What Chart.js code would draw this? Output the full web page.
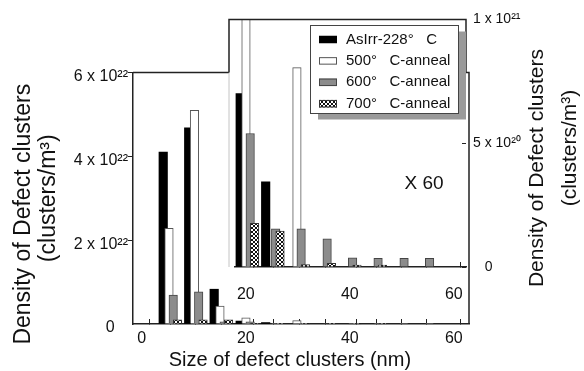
<!DOCTYPE html>
<html>
<head>
<meta charset="utf-8">
<script src="https://cdn.jsdelivr.net/npm/chart.js@4.4.1/dist/chart.umd.min.js"></script>
<style>
  body { margin: 0; background: #fff; }
  #wrap { position: relative; width: 584px; height: 371px; }
  #wrap canvas { position: absolute; left: 0; top: 0; }
</style>
</head>
<body>
<div id="wrap">
  <canvas id="main" width="584" height="371"></canvas>
  <canvas id="inset" width="584" height="371"></canvas>
</div>
<script>
// bar group centres (nm)
const sizes = [5.5, 10.4, 15.3, 20.3, 25.2, 30.1, 35.1, 40.0, 44.9, 49.9, 54.8]

// densities, clusters/m^3
const asIrr = [4.10e22, 4.68e22, 8.3e21, 7.0e20, 3.44e20, 0, 0, 0, 0, 0, 0]
const anneal500 = [2.28e22, 5.10e22, 4.3e21, 1.5e21, 0, 8.05e20, 0, 0, 0, 0, 0]
const anneal600 = [6.9e21, 7.7e21, 5.0e20, 5.39e20, 1.54e20, 1.54e20, 1.14e20, 3.7e19, 3.5e19, 3.5e19, 3.5e19]
const anneal700 = [1.0e21, 1.0e21, 1.0e21, 1.76e20, 1.45e20, 1.0e19, 1.5e19, 8e18, 8e18, 0, 0]

const seriesNames = ['AsIrr-228°   C', '500°   C-anneal', '600°   C-anneal', '700°   C-anneal']

// small tick marks sit between the groups
const binEdges = [3.0, 7.9, 12.8, 17.8, 22.8, 27.8, 32.9, 37.8, 42.6, 47.5, 52.3, 57.3]
const xLabels = [0, 20, 40, 60]
const mainYTicks = [0, 2e22, 4e22, 6e22]
const mainYLabels = ['0   ', '2 x 10²²', '4 x 10²²', '6 x 10²²']
const insetYTicks = [0, 5e20, 1e21]
const insetYLabels = ['   0', '5 x 10²⁰', '1 x 10²¹']

const FONT = "'Liberation Sans', Arial, Helvetica, sans-serif"
const INK = '#111'
const LINE = '#222'

Chart.defaults.font.family = FONT
Chart.defaults.color = INK

function makeHatch () {
  const c = document.createElement('canvas')
  c.width = 4
  c.height = 4
  const g = c.getContext('2d')
  g.fillStyle = '#fff'
  g.fillRect(0, 0, 4, 4)
  g.fillStyle = '#111'
  for (let i = 0; i < 4; i++) {
    g.fillRect(i, i, 1, 1)
    g.fillRect(i, 3 - i, 1, 1)
  }
  return g.createPattern(c, 'repeat')
}
const hatch = makeHatch()

const styles = [
  { fill: '#000', border: '#000', width: 0, shift: -1.38 },
  { fill: '#fff', border: '#555', width: 1, shift: -0.27 },
  { fill: '#8c8c8c', border: '#444', width: 1, shift: 0.54 },
  { fill: hatch, border: '#333', width: 1, shift: 1.38 }
]

function buildDatasets (clip) {
  return [asIrr, anneal500, anneal600, anneal700].map((vals, i) => ({
    label: seriesNames[i],
    data: vals
      .map((v, j) => ({ x: sizes[j] + styles[i].shift, y: v }))
      .filter((p) => p.y > 0),
    backgroundColor: styles[i].fill,
    borderColor: styles[i].border,
    borderWidth: styles[i].width,
    barThickness: 8.5,
    grouped: false,
    order: 3 - i,
    clip
  }))
}

function xTicks (min, max) {
  return (axis) => {
    axis.ticks = [...xLabels, ...binEdges]
      .filter((v) => v >= min && v <= max)
      .sort((a, b) => a - b)
      .map((v) => ({ value: v }))
  }
}

const hideLabelTick = (ctx) => xLabels.includes(ctx.tick && ctx.tick.value) ? 'rgba(0,0,0,0)' : LINE

const X_MIN = -1.69
const X_MAX = 62.92
const INSET_MIN = 17.92
const INSET_MAX = 62.35
const INSET_LEFT = 229

const mainFrame = {
  id: 'mainFrame',
  afterDraw (chart) {
    const { ctx, chartArea: a } = chart
    ctx.save()
    ctx.strokeStyle = LINE
    ctx.lineWidth = 1.5
    ctx.beginPath()
    ctx.moveTo(a.left, a.top)
    ctx.lineTo(a.right, a.top)
    ctx.lineTo(a.right, a.bottom)
    ctx.stroke()
    ctx.restore()
  }
}

const mainChart = new Chart(document.getElementById('main'), {
  type: 'bar',
  data: { datasets: buildDatasets(false) },
  options: {
    responsive: false,
    animation: false,
    devicePixelRatio: 1,
    events: [],
    layout: { padding: { top: 72.5, right: 115, bottom: 0, left: 0 } },
    plugins: { legend: { display: false }, tooltip: { enabled: false } },
    scales: {
      x: {
        type: 'linear',
        offset: false,
        bounds: 'data',
        min: X_MIN,
        max: X_MAX,
        afterBuildTicks: xTicks(X_MIN, X_MAX),
        afterFit: (s) => { s.height = 47 },
        grid: { drawOnChartArea: false, tickLength: -5, tickColor: hideLabelTick },
        border: { color: LINE, width: 1.5 },
        ticks: {
          autoSkip: false,
          maxRotation: 0,
          padding: 10,
          font: { size: 16 },
          callback: (v) => xLabels.includes(v) ? String(v) : ''
        },
        title: {
          display: true,
          text: 'Size of defect clusters (nm)    ',
          font: { size: 20, lineHeight: 1.1 },
          padding: { top: 0, bottom: 0 }
        }
      },
      y: {
        min: 0,
        max: 6e22,
        afterBuildTicks: (axis) => { axis.ticks = mainYTicks.map((v) => ({ value: v })) },
        afterFit: (s) => { s.width = 133 },
        grid: {
          drawOnChartArea: false,
          tickLength: 5,
          tickColor: (ctx) => ctx.index === 0 ? 'rgba(0,0,0,0)' : LINE
        },
        border: { color: LINE, width: 1.5 },
        ticks: {
          padding: 0,
          labelOffset: 4,
          font: { size: 16 },
          callback: (v, i) => mainYLabels[i]
        },
        title: {
          display: true,
          text: ['Density of Defect clusters     ', '(clusters/m³)'],
          font: { size: 23, lineHeight: 1.087 },
          padding: { top: 11.5, bottom: 0 }
        }
      }
    }
  },
  plugins: [mainFrame]
})

const insetDecor = {
  id: 'insetDecor',
  beforeDraw (chart) {
    const { ctx, chartArea: a } = chart
    ctx.save()
    ctx.fillStyle = '#fff'
    ctx.fillRect(INSET_LEFT, a.top, a.right - INSET_LEFT, 305 - a.top)
    ctx.restore()
  },
  afterDraw (chart) {
    const { ctx, chartArea: a } = chart
    const mainTop = mainChart.chartArea.top
    ctx.save()

    // frame of the inset
    ctx.strokeStyle = '#c4c4c4'
    ctx.lineWidth = 1
    ctx.beginPath()
    ctx.moveTo(INSET_LEFT, mainTop)
    ctx.lineTo(INSET_LEFT, a.bottom)
    ctx.stroke()
    ctx.strokeStyle = LINE
    ctx.lineWidth = 1.5
    ctx.beginPath()
    ctx.moveTo(INSET_LEFT, mainTop)
    ctx.lineTo(INSET_LEFT, a.top)
    ctx.lineTo(a.right, a.top)
    ctx.lineTo(a.right, mainTop)
    ctx.stroke()

    // legend box with its drop shadow
    const lg = { x: 310, y: 25, w: 148, h: 88 }
    ctx.fillStyle = '#9a9a9a'
    ctx.fillRect(lg.x + 8, lg.y + 6.5, lg.w, lg.h)
    ctx.fillStyle = '#fff'
    ctx.fillRect(lg.x, lg.y, lg.w, lg.h)
    ctx.strokeStyle = '#444'
    ctx.lineWidth = 1
    ctx.strokeRect(lg.x + 0.5, lg.y + 0.5, lg.w, lg.h)
    ctx.font = '15px ' + FONT
    ctx.textAlign = 'left'
    ctx.textBaseline = 'middle'
    seriesNames.forEach((name, i) => {
      const cy = 39.5 + i * 21.4
      ctx.fillStyle = styles[i].fill
      ctx.fillRect(319, cy - 3.75, 18, 7.5)
      if (styles[i].width) {
        ctx.strokeStyle = styles[i].border
        ctx.strokeRect(319.5, cy - 3.25, 17, 6.5)
      }
      ctx.fillStyle = INK
      ctx.fillText(name, 346, cy)
    })

    ctx.font = '19px ' + FONT
    ctx.textAlign = 'center'
    ctx.fillText('X 60', 424, 184)

    // right axis title, reads bottom to top
    ctx.font = '21px ' + FONT
    ctx.translate(537, 168)
    ctx.rotate(-Math.PI / 2)
    ctx.fillText('Density of Defect clusters', 0, 0)
    ctx.rotate(Math.PI / 2)
    ctx.translate(33, -20)
    ctx.rotate(-Math.PI / 2)
    ctx.fillText('(clusters/m³)', 0, 0)
    ctx.restore()
  }
}

new Chart(document.getElementById('inset'), {
  type: 'bar',
  data: { datasets: buildDatasets(0) },
  options: {
    responsive: false,
    animation: false,
    devicePixelRatio: 1,
    events: [],
    layout: { padding: { top: 16, right: 0, bottom: 0, left: 235 } },
    plugins: { legend: { display: false }, tooltip: { enabled: false } },
    scales: {
      x: {
        type: 'linear',
        offset: false,
        bounds: 'data',
        min: INSET_MIN,
        max: INSET_MAX,
        afterBuildTicks: xTicks(INSET_MIN, INSET_MAX),
        afterFit: (s) => { s.height = 104 },
        grid: { drawOnChartArea: false, tickLength: -5, tickColor: hideLabelTick },
        border: { color: LINE, width: 1.5 },
        ticks: {
          autoSkip: false,
          maxRotation: 0,
          padding: 23,
          font: { size: 16 },
          callback: (v) => xLabels.includes(v) ? String(v) : ''
        }
      },
      y: {
        position: 'right',
        min: 0,
        max: 1e21,
        afterBuildTicks: (axis) => { axis.ticks = insetYTicks.map((v) => ({ value: v })) },
        afterFit: (s) => { s.width = 118 },
        grid: { drawOnChartArea: false, tickLength: -4, tickColor: LINE },
        border: { display: false },
        ticks: {
          padding: 11,
          font: { size: 14 },
          callback: (v, i) => insetYLabels[i]
        }
      }
    }
  },
  plugins: [insetDecor]
})
</script>
</body>
</html>
